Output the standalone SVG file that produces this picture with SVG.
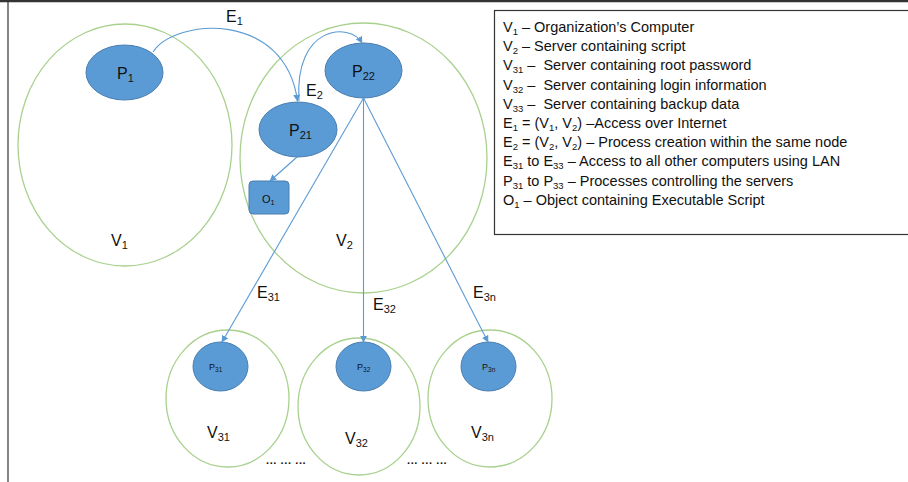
<svg xmlns="http://www.w3.org/2000/svg" width="908" height="482" viewBox="0 0 908 482">
<defs>
<style>
.lbl{font-family:"Liberation Sans",Arial,sans-serif;font-size:16px;fill:#111}
.sm{font-family:"Liberation Sans",Arial,sans-serif;font-size:11px;fill:#111}
.xs{font-family:"Liberation Sans",Arial,sans-serif;font-size:9px;fill:#111}
.leg{font-family:"Liberation Sans",Arial,sans-serif;font-size:14.5px;fill:#111}
.host{fill:none;stroke:#A9D18E;stroke-width:1.3}
.proc{fill:#5B9BD5;stroke:#4A7EB0;stroke-width:1}
.edge{fill:none;stroke:#5B9BD5;stroke-width:1.1}
</style>
<marker id="arr" viewBox="0 0 10 10" refX="9" refY="5" markerWidth="7" markerHeight="7" orient="auto" markerUnits="userSpaceOnUse">
<path d="M0,0 L10,5 L0,10 z" fill="#5B9BD5"/>
</marker>
</defs>
<rect x="0" y="0" width="908" height="482" fill="#fff"/>
<line x1="0" y1="1" x2="908" y2="1" stroke="#333" stroke-width="2.5"/>
<line x1="8" y1="0" x2="8" y2="482" stroke="#333" stroke-width="1.2"/>

<g id="V1"><ellipse class="host" cx="125" cy="145" rx="107" ry="121"/>
<text class="lbl" x="111" y="246">V<tspan font-size="11" dy="3">1</tspan></text></g>
<g id="V2"><ellipse class="host" cx="363.5" cy="158" rx="123.5" ry="135"/>
<text class="lbl" x="336" y="246">V<tspan font-size="11" dy="3">2</tspan></text></g>
<g id="V31"><ellipse class="host" cx="227.5" cy="398.5" rx="61.5" ry="68.5"/>
<text class="lbl" x="207" y="438">V<tspan font-size="11" dy="3">31</tspan></text></g>
<g id="V32"><ellipse class="host" cx="359" cy="406.5" rx="61" ry="68.5"/>
<text class="lbl" x="345" y="444">V<tspan font-size="11" dy="3">32</tspan></text></g>
<g id="V3n"><ellipse class="host" cx="490" cy="398.5" rx="62" ry="68.5"/>
<text class="lbl" x="471" y="438">V<tspan font-size="11" dy="3">3n</tspan></text></g>

<g id="P1"><ellipse class="proc" cx="124.5" cy="72.5" rx="38.5" ry="27.5"/>
<text class="lbl" x="117" y="79">P<tspan font-size="11" dy="3">1</tspan></text></g>
<g id="P22"><ellipse class="proc" cx="363.5" cy="70.5" rx="38.5" ry="27.5"/>
<text class="lbl" x="352" y="77">P<tspan font-size="11" dy="3">22</tspan></text></g>
<g id="P21"><ellipse class="proc" cx="298" cy="129.5" rx="39" ry="27.5"/>
<text class="lbl" x="289" y="136">P<tspan font-size="11" dy="3">21</tspan></text></g>
<g id="O1"><rect class="proc" x="249" y="181" width="40" height="33" rx="4"/>
<text class="sm" x="262" y="203">O<tspan font-size="7.5" dy="2">1</tspan></text></g>
<g id="P31"><ellipse class="proc" cx="220.5" cy="366.5" rx="27.5" ry="24.5"/>
<text class="xs" x="209" y="370">P<tspan font-size="6.5" dy="2">31</tspan></text></g>
<g id="P32"><ellipse class="proc" cx="363.5" cy="366.5" rx="27.5" ry="24.5"/>
<text class="xs" x="357" y="370">P<tspan font-size="6.5" dy="2">32</tspan></text></g>
<g id="P3n"><ellipse class="proc" cx="488.5" cy="366.5" rx="27.5" ry="24.5"/>
<text class="xs" x="482" y="370">P<tspan font-size="6.5" dy="2">3n</tspan></text></g>

<g id="connectors">
<path class="edge" d="M153,52 C175,18 285,10 297.5,101" marker-end="url(#arr)"/>
<path class="edge" d="M299,101 C294,25 350,22 362,43" marker-end="url(#arr)"/>
<path class="edge" d="M297,157 L270,181" marker-end="url(#arr)"/>
<path class="edge" d="M363.5,98 L222,342" marker-end="url(#arr)"/>
<path class="edge" d="M363.5,98 L363.5,342" marker-end="url(#arr)"/>
<path class="edge" d="M363.5,98 L488,342" marker-end="url(#arr)"/>
<text class="lbl" x="226" y="22">E<tspan font-size="11" dy="3">1</tspan></text>
<text class="lbl" x="306" y="96">E<tspan font-size="11" dy="3">2</tspan></text>
<text class="lbl" x="257" y="298">E<tspan font-size="11" dy="3">31</tspan></text>
<text class="lbl" x="373" y="310">E<tspan font-size="11" dy="3">32</tspan></text>
<text class="lbl" x="473" y="298">E<tspan font-size="11" dy="3">3n</tspan></text>
</g>

<text class="sm" x="266" y="464" font-weight="bold" letter-spacing="0.6">... ... ...</text>
<text class="sm" x="407" y="464" font-weight="bold" letter-spacing="0.6">... ... ...</text>

<g id="legend">
<rect x="494.5" y="10.5" width="420" height="224" fill="#fff" stroke="#333" stroke-width="1.2"/>
<text class="leg" x="503" y="32">V<tspan font-size="9.5" dy="3">1</tspan><tspan dy="-3"> – Organization’s Computer</tspan></text>
<text class="leg" x="503" y="51.2">V<tspan font-size="9.5" dy="3">2</tspan><tspan dy="-3"> – Server containing script</tspan></text>
<text class="leg" x="503" y="70.4">V<tspan font-size="9.5" dy="3">31</tspan><tspan dy="-3"> –&#160; Server containing root password</tspan></text>
<text class="leg" x="503" y="89.6">V<tspan font-size="9.5" dy="3">32</tspan><tspan dy="-3"> –&#160; Server containing login information</tspan></text>
<text class="leg" x="503" y="108.8">V<tspan font-size="9.5" dy="3">33</tspan><tspan dy="-3"> –&#160; Server containing backup data</tspan></text>
<text class="leg" x="503" y="128">E<tspan font-size="9.5" dy="3">1</tspan><tspan dy="-3"> = (V</tspan><tspan font-size="9.5" dy="3">1</tspan><tspan dy="-3">, V</tspan><tspan font-size="9.5" dy="3">2</tspan><tspan dy="-3">) –Access over Internet</tspan></text>
<text class="leg" x="503" y="147.2">E<tspan font-size="9.5" dy="3">2</tspan><tspan dy="-3"> = (V</tspan><tspan font-size="9.5" dy="3">2</tspan><tspan dy="-3">, V</tspan><tspan font-size="9.5" dy="3">2</tspan><tspan dy="-3">) – Process creation within the same node</tspan></text>
<text class="leg" x="503" y="166.4">E<tspan font-size="9.5" dy="3">31</tspan><tspan dy="-3"> to E</tspan><tspan font-size="9.5" dy="3">33</tspan><tspan dy="-3"> – Access to all other computers using LAN</tspan></text>
<text class="leg" x="503" y="185.6">P<tspan font-size="9.5" dy="3">31</tspan><tspan dy="-3"> to P</tspan><tspan font-size="9.5" dy="3">33</tspan><tspan dy="-3"> – Processes controlling the servers</tspan></text>
<text class="leg" x="503" y="204.8">O<tspan font-size="9.5" dy="3">1</tspan><tspan dy="-3"> – Object containing Executable Script</tspan></text>
</g>
</svg>
